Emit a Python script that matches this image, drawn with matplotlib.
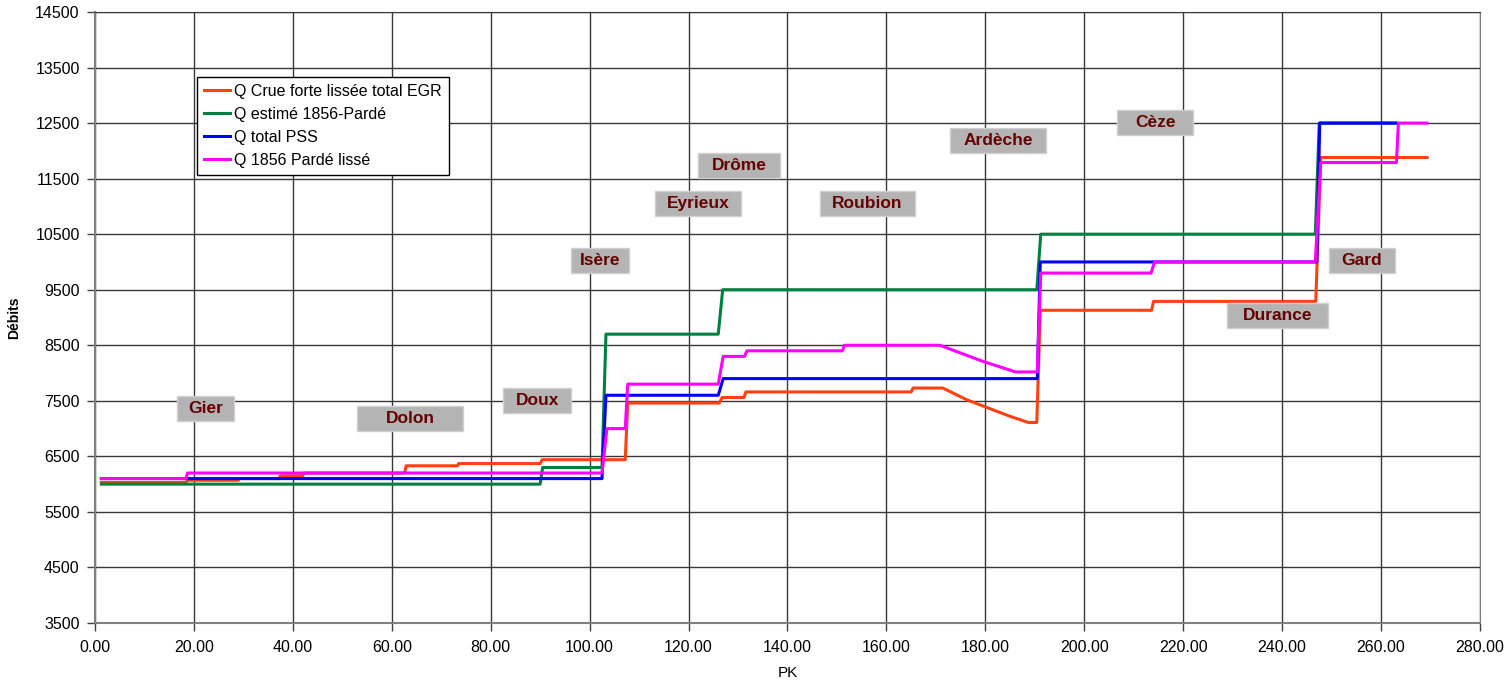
# Debits le long du Rhone (PK) - crue 1856 / EGR / PSS, with tributary labels.

import matplotlib
matplotlib.use('Agg')
import matplotlib.pyplot as plt
from matplotlib.patches import Rectangle

plt.rcParams['font.family'] = ['Liberation Sans', 'DejaVu Sans']

# series: PK and discharge (step profiles)
egr_pk = [1.3, 18.4, 18.7, 29.0, 29.2, 37.2, 37.5, 42.0, 42.2, 62.6, 62.9, 73.3, 73.5, 90.0,
          90.4, 107.2, 107.7, 126.2, 126.8, 131.2, 131.6, 165.0, 165.4, 171.4, 176.2, 185.0,
          188.7, 190.4, 191.1, 213.6, 214.0, 246.8, 247.8, 269.3]
egr_q = [6030, 6030, 6070, 6070, 6100, 6100, 6150, 6150, 6200, 6200, 6330, 6330, 6370, 6370,
         6440, 6440, 7460, 7460, 7560, 7560, 7660, 7660, 7730, 7730, 7520, 7220,
         7110, 7110, 9130, 9130, 9290, 9290, 11880, 11880]

parde_pk = [1.3, 90.0, 90.5, 102.5, 103.3, 126.0, 126.9, 190.4, 191.2, 246.7, 247.5, 263.0]
parde_q = [6000, 6000, 6300, 6300, 8700, 8700, 9500, 9500, 10500, 10500, 12500, 12500]

pss_pk = [1.3, 102.5, 103.3, 126.0, 127.0, 190.5, 191.1, 247.0, 247.6, 263.0]
pss_q = [6100, 6100, 7600, 7600, 7900, 7900, 10000, 10000, 12500, 12500]

lisse_pk = [1.3, 18.4, 18.7, 102.5, 103.5, 107.2, 107.7, 126.0, 127.0, 131.3, 131.8, 151.1,
            151.5, 170.8, 179.5, 186.1, 190.5, 191.2, 213.5, 214.2, 246.7, 247.8, 263.1,
            263.5, 269.3]
lisse_q = [6100, 6100, 6200, 6200, 7000, 7000, 7800, 7800, 8300, 8300, 8400, 8400,
           8500, 8500, 8210, 8020, 8020, 9800, 9800, 10000, 10000, 11790, 11790,
           12500, 12500]

series_labels = ['Q Crue forte lissée total EGR', 'Q estimé 1856-Pardé',
                 'Q total PSS', 'Q 1856 Pardé lissé']

# tributary labels (PK, Q at label centre)
trib_names = ['Gier', 'Dolon', 'Doux', 'Isère', 'Eyrieux', 'Drôme', 'Roubion',
              'Ardèche', 'Cèze', 'Durance', 'Gard']
trib_pk = [22.4, 63.7, 89.4, 102.1, 121.9, 130.2, 156.1, 182.6, 214.3, 239.0, 256.1]
trib_q = [7353, 7173, 7497, 10035, 11044, 11728, 11044, 12178, 12502, 9027, 10035]
trib_box_w = [11.5, 21.4, 13.7, 11.7, 17.4, 16.6, 19.2, 19.4, 15.4, 20.4, 13.3]

xticks = list(range(0, 281, 20))
yticks = list(range(3500, 14501, 1000))

fig = plt.figure(figsize=(15.05, 6.85), dpi=100)
ax = fig.add_axes([0.0631, 0.0905, 0.9203, 0.892])

colors = ['#ff4010', '#008040', '#0000ff', '#ff00ff']
for xs, ys, lab, c in zip([egr_pk, parde_pk, pss_pk, lisse_pk],
                          [egr_q, parde_q, pss_q, lisse_q],
                          series_labels, colors):
    ax.plot(xs, ys, color=c, lw=2.2, label=lab, zorder=3)

ax.set_xlim(0, 280)
ax.set_ylim(3500, 14500)
ax.set_xticks(xticks)
ax.set_xticklabels([f'{v:.2f}' for v in xticks])
ax.set_yticks(yticks)
ax.tick_params(labelsize=11.5, length=6, width=1, color='#404040')
ax.tick_params(axis='x', pad=6)
ax.tick_params(axis='y', pad=5)
ax.grid(True, color='#383838', lw=1, zorder=0)

for s in ['left', 'bottom']:
    ax.spines[s].set_color('#808080')
    ax.spines[s].set_linewidth(1.5)
ax.spines['top'].set_color('#383838')
ax.spines['right'].set_color('#808080')

ax.set_xlabel('PK', fontsize=11, labelpad=8)
ax.set_ylabel('Débits', fontsize=10, fontweight='bold', labelpad=10)

box_h = 450
for name, x, y, w in zip(trib_names, trib_pk, trib_q, trib_box_w):
    ax.add_patch(Rectangle((x - w / 2, y - box_h / 2), w, box_h, facecolor='#b4b4b4',
                           edgecolor='#d0d0d0', lw=1, zorder=4))
    ax.text(x, y, name, ha='center', va='center', fontsize=12.5, fontweight='bold',
            color='#660000', zorder=5)

leg = ax.legend(loc='upper left', bbox_to_anchor=(0.0736, 0.894), fontsize=11.5,
                frameon=True, fancybox=False, edgecolor='black', framealpha=1,
                handlelength=1.6, handletextpad=0.3, borderpad=0.45, labelspacing=0.5,
                borderaxespad=0)
leg.get_frame().set_linewidth(1)
leg.set_zorder(6)

plt.savefig('out.png', dpi=100)
